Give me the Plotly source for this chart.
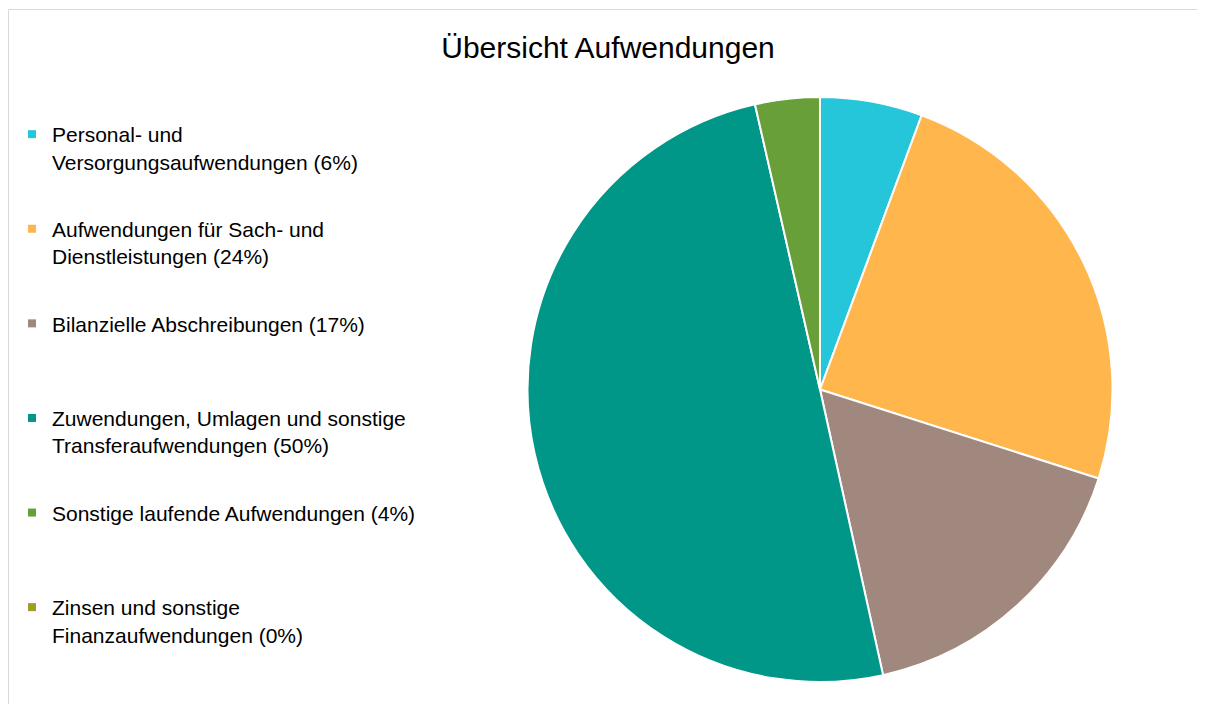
import plotly.graph_objects as go

# Data
categories = [
    "Personal- und<br>Versorgungsaufwendungen",
    "Aufwendungen für Sach- und<br>Dienstleistungen",
    "Bilanzielle Abschreibungen",
    "Zuwendungen, Umlagen und sonstige<br>Transferaufwendungen",
    "Sonstige laufende Aufwendungen",
    "Zinsen und sonstige<br>Finanzaufwendungen",
]
values = [5.65, 24.27, 16.62, 49.89, 3.57, 0.0]
colors = ["#26C6DA", "#FFB74D", "#A1887F", "#009688", "#689F38", "#9E9D24"]
title_text = "Übersicht Aufwendungen"

W, H = 1205, 704
OFF = 8  # page body margin
FONT = "Liberation Sans, Arial, sans-serif"


def fx(px):
    return (px - OFF) / W


def fy(py):
    return 1 - (py - OFF) / H


total = sum(values)
pcts = [round(v / total * 100) for v in values]
plain_labels = [c.replace("<br>", " ") for c in categories]

fig = go.Figure()

# Pie chart
cx, cy, r = 820, 389.5, 292.5
fig.add_trace(go.Pie(
    labels=plain_labels,
    values=values,
    marker=dict(colors=colors, line=dict(color="white", width=2)),
    sort=False,
    direction="clockwise",
    rotation=0,
    textinfo="none",
    hoverinfo="label+percent",
    showlegend=False,
    domain=dict(x=[fx(cx - r), fx(cx + r)], y=[fy(cy + r), fy(cy - r)]),
))

# Legend entries (one group each, to control spacing)
for i, (c, p, col) in enumerate(zip(categories, pcts, colors)):
    name = f"{c} ({p}%)"
    if "<br>" not in c:
        name = name + "<br> "
    fig.add_trace(go.Scatter(
        x=[None], y=[None], mode="markers",
        marker=dict(symbol="square", size=8, color=col),
        name=name, legendgroup=f"g{i}", showlegend=True,
    ))

# frame lines
fig.add_shape(type="line", xref="paper", yref="paper",
              x0=0.5 / W, x1=1.0, y0=fy(9.5), y1=fy(9.5),
              line=dict(color="#D9D9D9", width=1))
fig.add_shape(type="line", xref="paper", yref="paper",
              x0=0.5 / W, x1=0.5 / W, y0=fy(9.5), y1=0,
              line=dict(color="#D9D9D9", width=1))

fig.update_layout(
    width=W, height=H,
    margin=dict(l=0, r=0, t=0, b=0),
    paper_bgcolor="white", plot_bgcolor="white",
    font=dict(family=FONT, color="#000000"),
    title=dict(text=title_text, x=fx(608), xanchor="center", y=fy(47), yanchor="middle",
               font=dict(family=FONT, size=30, color="#000000")),
    xaxis=dict(visible=False),
    yaxis=dict(visible=False),
    legend=dict(
        x=fx(12), xanchor="left", y=fy(114), yanchor="top",
        font=dict(family=FONT, size=21, color="#000000"),
        tracegroupgap=37, valign="top",
        bgcolor="rgba(0,0,0,0)",
    ),
)

fig.write_html("out.html")
